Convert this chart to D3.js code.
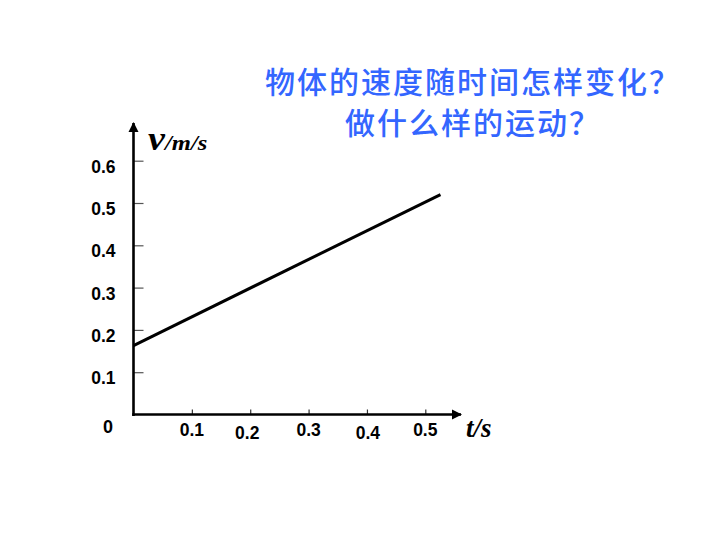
<!DOCTYPE html>
<html>
<head>
<meta charset="utf-8">
<script src="https://cdn.jsdelivr.net/npm/d3@7"></script>
<style>
  body { margin: 0; background: #fff; }
</style>
</head>
<body>
<script>
// title lines
const titleLines = ["物体的速度随时间怎样变化？", "做什么样的运动？"];

// tick values for both axes
const yTicks = [0.1, 0.2, 0.3, 0.4, 0.5, 0.6];
const xTicks = [0.1, 0.2, 0.3, 0.4, 0.5];

// the velocity line
const times = [0, 0.526];
const speeds = [0.163, 0.52];

const width = 720, height = 540;

const svg = d3.select("body")
  .append("svg")
  .attr("width", width)
  .attr("height", height);

// scales
const x = d3.scaleLinear().domain([0, 0.5]).range([133.5, 425.3]);
const y = d3.scaleLinear().domain([0, 0.6]).range([414.5, 160.7]);

// arrow head marker
svg.append("defs").append("marker")
  .attr("id", "arrow")
  .attr("viewBox", "0 0 10 10")
  .attr("refX", 9)
  .attr("refY", 5)
  .attr("markerWidth", 4)
  .attr("markerHeight", 4)
  .attr("markerUnits", "strokeWidth")
  .attr("orient", "auto")
  .append("path")
  .attr("d", "M0,0 L10,5 L0,10 Z")
  .attr("fill", "#000");

// y-axis with ticks pointing inward
const yAxis = svg.append("g")
  .attr("transform", `translate(${x(0)},0)`)
  .call(d3.axisRight(y).tickValues(yTicks).tickSize(10).tickFormat(""));
yAxis.select(".domain").remove();
yAxis.selectAll(".tick line").attr("stroke", "#555").attr("stroke-width", 1.2);

// x-axis with ticks pointing up
const xAxis = svg.append("g")
  .attr("transform", `translate(0,${y(0)})`)
  .call(d3.axisTop(x).tickValues(xTicks).tickSize(5).tickFormat(""));
xAxis.select(".domain").remove();
xAxis.selectAll(".tick line").attr("stroke", "#333").attr("stroke-width", 1.2);

// axis lines with arrows
svg.append("line")
  .attr("x1", x(0)).attr("y1", y(0) + 1.5)
  .attr("x2", x(0)).attr("y2", 123)
  .attr("stroke", "#000").attr("stroke-width", 2.6)
  .attr("marker-end", "url(#arrow)");

svg.append("line")
  .attr("x1", x(0) - 1.3).attr("y1", y(0))
  .attr("x2", 461).attr("y2", y(0))
  .attr("stroke", "#000").attr("stroke-width", 2.6)
  .attr("marker-end", "url(#arrow)");

// y tick labels
svg.selectAll(".ylab")
  .data(yTicks)
  .enter()
  .append("text")
  .attr("class", "ylab")
  .attr("x", 115.5)
  .attr("y", d => y(d) + 12)
  .attr("text-anchor", "end")
  .attr("font-family", "Liberation Sans, Arial, sans-serif")
  .attr("font-weight", "bold")
  .attr("font-size", 17.5)
  .text(d => d.toFixed(1));

// x tick labels, staggered like the original
svg.selectAll(".xlab")
  .data(xTicks)
  .enter()
  .append("text")
  .attr("class", "xlab")
  .attr("x", d => x(d) + (d === 0.2 ? -3 : d === 0.4 ? 1 : 0))
  .attr("y", (d, i) => i % 2 === 0 ? 436 : 439)
  .attr("text-anchor", "middle")
  .attr("font-family", "Liberation Sans, Arial, sans-serif")
  .attr("font-weight", "bold")
  .attr("font-size", 17.5)
  .text(d => d.toFixed(1));

svg.append("text")
  .attr("x", 108)
  .attr("y", 433)
  .attr("text-anchor", "middle")
  .attr("font-family", "Liberation Sans, Arial, sans-serif")
  .attr("font-weight", "bold")
  .attr("font-size", 18)
  .text("0");

// axis names
const vLabel = svg.append("text")
  .attr("transform", "translate(148,150) scale(1.12,1)")
  .attr("font-family", "Liberation Serif, Times New Roman, serif")
  .attr("font-style", "italic")
  .attr("font-weight", "bold");
vLabel.append("tspan").attr("font-size", 34).text("v");
vLabel.append("tspan").attr("font-size", 22).text("/m/s");

svg.append("text")
  .attr("x", 466)
  .attr("y", 437)
  .attr("font-family", "Liberation Serif, Times New Roman, serif")
  .attr("font-style", "italic")
  .attr("font-weight", "bold")
  .attr("font-size", 27)
  .text("t/s");

// the velocity line
const line = d3.line()
  .x(d => x(d[0]))
  .y(d => y(d[1]));

svg.append("path")
  .datum(d3.zip(times, speeds))
  .attr("d", line)
  .attr("fill", "none")
  .attr("stroke", "#000")
  .attr("stroke-width", 3);

// blue question title
svg.selectAll(".title")
  .data(titleLines)
  .enter()
  .append("text")
  .attr("class", "title")
  .attr("x", 473)
  .attr("y", (d, i) => 93 + i * 41)
  .attr("text-anchor", "middle")
  .attr("font-family", "Noto Sans CJK SC, sans-serif")
  .attr("font-size", 30)
  .attr("font-weight", 500)
  .attr("letter-spacing", 2)
  .attr("fill", "#3366FF")
  .text(d => d);
</script>
</body>
</html>
